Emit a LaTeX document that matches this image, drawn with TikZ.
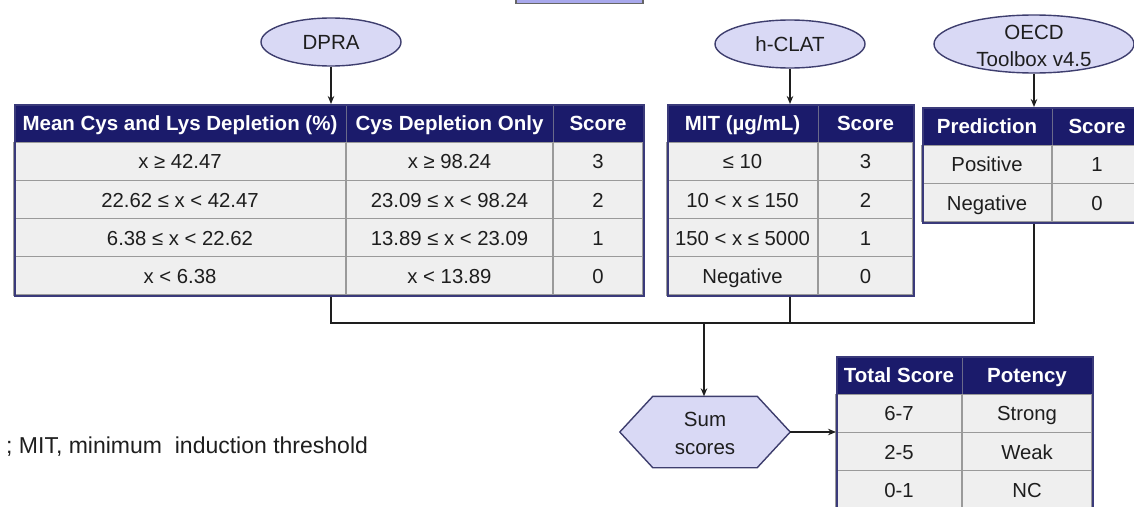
\documentclass[tikz,border=0pt]{standalone}
\usepackage{fontspec}
\setmainfont{Liberation Sans}
\usetikzlibrary{arrows.meta,shapes.geometric,backgrounds}
\definecolor{navy}{HTML}{1B1B6B}
\definecolor{rowgrey}{HTML}{EFEFEF}
\definecolor{gridgrey}{HTML}{9A9A9A}
\definecolor{headline}{HTML}{6A6A8A}
\definecolor{frameblue}{HTML}{3A3A7A}
\definecolor{bubble}{HTML}{D9D9F5}
\definecolor{bubbleline}{HTML}{3E3E6E}
\definecolor{topfill}{HTML}{A8A8EC}
\definecolor{ink}{HTML}{1E1E1E}

\begin{document}
\begin{tikzpicture}[x=1pt,y=-1pt,
  hcell/.style={draw=headline, fill=navy, text=white, line width=1pt,
    font=\fontsize{20.5}{22}\selectfont\bfseries, minimum height=38.2, inner sep=0,
    text height=17pt, text depth=2pt},
  bcell/.style={draw=gridgrey, fill=rowgrey, text=ink, line width=1.2pt,
    font=\fontsize{20.3}{22}\selectfont, minimum height=38.2, inner sep=0,
    text height=17pt, text depth=2pt},
  tframe/.style={draw=frameblue, line width=1.8pt, inner sep=0},
  bubblenode/.style={ellipse, draw=bubbleline, fill=bubble, line width=1.4pt, inner sep=0},
  bubbletext/.style={text=ink, font=\fontsize{20.5}{27}\selectfont, align=center, inner sep=0},
  link/.style={draw=ink, line width=1.4pt},
  arr/.style={link, -{Stealth[length=8pt,width=6.5pt]}}
]
\useasboundingbox (0,0) rectangle (1134,506);

% partly visible box at the top
\node[draw=black!60, fill=topfill, line width=1.5pt, minimum width=127, minimum height=40,
  anchor=south west, inner sep=0] (topbox) at (515,4) {};

% assay bubbles
\node[bubblenode, minimum width=140, minimum height=48] (dpra) at (331,42) {};
\node[bubbletext] (dpralabel) at (331,42) {DPRA};
\node[bubblenode, minimum width=150, minimum height=48] (hclat) at (790,44) {};
\node[bubbletext] (hclatlabel) at (790,44) {h-CLAT};
\node[bubblenode, minimum width=200, minimum height=58] (oecd) at (1034,44) {};
\node[bubbletext] (oecdlabel) at (1034,46) {OECD\\Toolbox v4.5};

% DPRA scoring table
\node[hcell, minimum width=332] (dh1) at (180,123.1) {Mean Cys and Lys Depletion (\%)};
\node[hcell, minimum width=207] (dh2) at (449.5,123.1) {Cys Depletion Only};
\node[hcell, minimum width=90] (dh3) at (598,123.1) {Score};
\foreach \ta/\tb/\tc [count=\i] in {x ≥ 42.47/x ≥ 98.24/3,
    22.62 ≤ x < 42.47/23.09 ≤ x < 98.24/2,
    6.38 ≤ x < 22.62/13.89 ≤ x < 23.09/1,
    x < 6.38/x < 13.89/0} {
  \node[bcell, minimum width=332] (d\i a) at (180,{104+38.2*\i+19.1}) {\ta};
  \node[bcell, minimum width=207] (d\i b) at (449.5,{104+38.2*\i+19.1}) {\tb};
  \node[bcell, minimum width=90] (d\i c) at (598,{104+38.2*\i+19.1}) {\tc};
}
\node[tframe, anchor=north west, minimum width=629, minimum height=191] (dtab) at (14,104) {};

% h-CLAT scoring table
\node[hcell, minimum width=151] (hh1) at (742.5,123.1) {MIT (µg/mL)};
\node[hcell, minimum width=95] (hh2) at (865.5,123.1) {Score};
\foreach \ta/\tb [count=\i] in {≤ 10/3, 10 < x ≤ 150/2, 150 < x ≤ 5000/1, Negative/0} {
  \node[bcell, minimum width=151] (h\i a) at (742.5,{104+38.2*\i+19.1}) {\ta};
  \node[bcell, minimum width=95] (h\i b) at (865.5,{104+38.2*\i+19.1}) {\tb};
}
\node[tframe, anchor=north west, minimum width=246, minimum height=191] (htab) at (667,104) {};

% OECD Toolbox table
\node[hcell, minimum width=130] (oh1) at (987,126.1) {Prediction};
\node[hcell, minimum width=90] (oh2) at (1097,126.1) {Score};
\foreach \ta/\tb [count=\i] in {Positive/1, Negative/0} {
  \node[bcell, minimum width=130] (o\i a) at (987,{107+38.2*\i+19.1}) {\ta};
  \node[bcell, minimum width=90] (o\i b) at (1097,{107+38.2*\i+19.1}) {\tb};
}
\node[tframe, anchor=north west, minimum width=220, minimum height=115] (otab) at (922,107) {};

% summing step
\node[text=ink, font=\fontsize{20.5}{28}\selectfont, align=center, inner sep=0,
  minimum width=170, minimum height=71] (sum) at (705,432) {};
\node[text=ink, font=\fontsize{20.5}{28}\selectfont, align=center, inner sep=0]
  (sumlabel) at (705,433) {Sum\\scores};
\begin{scope}[on background layer]
  \draw[fill=bubble, draw=bubbleline, line width=1.4pt]
    (sum.west) -- ([xshift=33pt]sum.north west) -- ([xshift=-33pt]sum.north east)
    -- (sum.east) -- ([xshift=-33pt]sum.south east) -- ([xshift=33pt]sum.south west) -- cycle;
\end{scope}

% potency table
\node[hcell, minimum width=126] (th1) at (899,375.1) {Total Score};
\node[hcell, minimum width=130] (th2) at (1027,375.1) {Potency};
\foreach \ta/\tb [count=\i] in {6-7/Strong, 2-5/Weak, 0-1/NC} {
  \node[bcell, minimum width=126] (t\i a) at (899,{356+38.2*\i+19.1}) {\ta};
  \node[bcell, minimum width=130] (t\i b) at (1027,{356+38.2*\i+19.1}) {\tb};
}
\node[tframe, anchor=north west, minimum width=256, minimum height=170] (ttab) at (836,356) {};

% connectors
\coordinate (join) at (704,323);
\draw[arr] (dpra.south) -- (dpra.south |- dtab.north);
\draw[arr] (hclat.south) -- (hclat.south |- htab.north);
\draw[arr] (oecd.south) -- (oecd.south |- otab.north);
\draw[link] (dpra.south |- dtab.south) -- (dpra.south |- join) -- (oecd.south |- join)
  -- (oecd.south |- otab.south);
\draw[link] (hclat.south |- htab.south) -- (hclat.south |- join);
\draw[arr] (join) -- (join |- sum.north);
\draw[arr] (sum.east) -- (sum.east -| ttab.west);

% abbreviation note
\node[anchor=west, inner sep=0, text=ink, font=\fontsize{23}{26}\selectfont] (note)
  at (6,447) {; MIT, minimum\ \ induction threshold};
\end{tikzpicture}
\end{document}
